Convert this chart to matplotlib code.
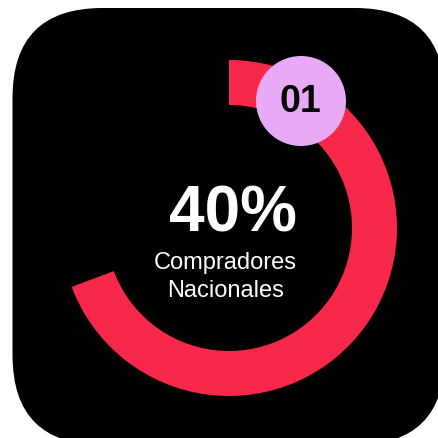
import matplotlib.pyplot as plt
from matplotlib.patches import FancyBboxPatch, Wedge, Circle

# datos de la tarjeta
badge = "01"
valor = "40%"
etiqueta = ["Compradores", "Nacionales"]
fraccion_arco = 0.693  # parte del anillo dibujada

rojo = "#F7284A"
rosa = "#E8A9F6"
plt.rcParams['font.family'] = ['Liberation Sans', 'DejaVu Sans']

fig = plt.figure(figsize=(4.38, 4.38), dpi=100)
ax = fig.add_axes([0, 0, 1, 1])
ax.set_xlim(0, 438)
ax.set_ylim(0, 438)
ax.set_aspect('equal')
ax.axis('off')

# fondo negro redondeado (se sale un poco por abajo y a la derecha)
caja = FancyBboxPatch((12.5, -7), 432.5, 437, boxstyle="round,pad=0,rounding_size=90",
                      fc="black", ec="none")
ax.add_patch(caja)

# anillo
cx, cy = 229, 438 - 228
theta2 = 90
theta1 = 90 - 360 * fraccion_arco
ax.add_patch(Wedge((cx, cy), 168, theta1, theta2, width=45, fc=rojo, ec="none"))

# insignia
bx, by = 301, 438 - 101
ax.add_patch(Circle((bx, by), 45, fc=rosa, ec="none", zorder=3))
ax.text(bx - 1, by - 1, badge, ha='center', va='center', fontsize=27,
        fontweight='bold', color='black', zorder=4)

# textos centrales
ax.text(233, 438 - 232, valor, ha='center', va='baseline', fontsize=46,
        fontweight='bold', color='white')
ax.text(225, 438 - 269, etiqueta[0], ha='center', va='baseline', fontsize=17,
        color='white')
ax.text(226, 438 - 297, etiqueta[1], ha='center', va='baseline', fontsize=17,
        color='white')

fig.savefig("out.png", dpi=100, facecolor="white")
